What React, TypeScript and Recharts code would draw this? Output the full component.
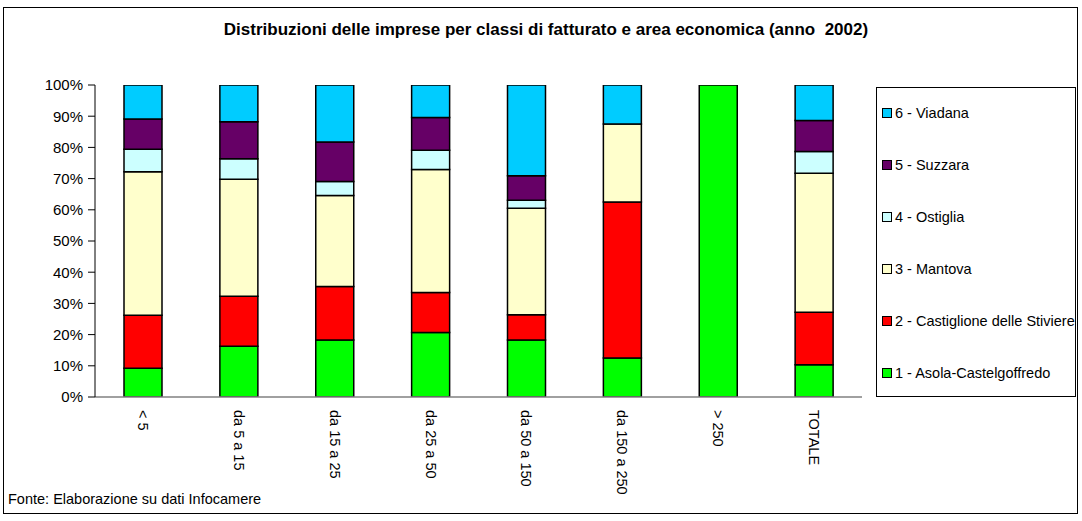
import { BarChart, Bar, XAxis, YAxis, Legend } from 'recharts';

const categories = ['< 5', 'da 5 a 15', 'da 15 a 25', 'da 25 a 50', 'da 50 a 150', 'da 150 a 250', '> 250', 'TOTALE'];

// percentuali per area economica
const asola = [9.2, 16.3, 18.3, 20.7, 18.3, 12.5, 100, 10.3];
const castiglione = [17.0, 16.0, 17.1, 12.8, 8.1, 50.0, 0, 16.9];
const mantova = [46.0, 37.5, 29.2, 39.4, 34.1, 25.0, 0, 44.5];
const ostiglia = [7.2, 6.6, 4.5, 6.2, 2.6, 0, 0, 7.0];
const suzzara = [9.7, 11.8, 12.6, 10.5, 7.8, 0, 0, 9.9];
const viadana = [10.9, 11.8, 18.3, 10.4, 29.1, 12.5, 0, 11.4];

const yTicks = [0, 10, 20, 30, 40, 50, 60, 70, 80, 90, 100];

const series = [
  { key: 'asola', name: '1 - Asola-Castelgoffredo', color: '#00FF00' },
  { key: 'castiglione', name: '2 - Castiglione delle Stiviere', color: '#FF0000' },
  { key: 'mantova', name: '3 - Mantova', color: '#FFFFCC' },
  { key: 'ostiglia', name: '4 - Ostiglia', color: '#CCFFFF' },
  { key: 'suzzara', name: '5 - Suzzara', color: '#660066' },
  { key: 'viadana', name: '6 - Viadana', color: '#00CCFF' },
];

const data = categories.map((c, i) => ({
  cat: c,
  asola: asola[i],
  castiglione: castiglione[i],
  mantova: mantova[i],
  ostiglia: ostiglia[i],
  suzzara: suzzara[i],
  viadana: viadana[i],
}));

const FONT = 'Arial, "Liberation Sans", sans-serif';

function XTick(props: any) {
  const { x, y, payload } = props;
  return (
    <text
      x={0}
      y={0}
      transform={`translate(${x - 5},${y + 5}) rotate(90)`}
      textAnchor="start"
      fontSize={14.5}
      fontFamily={FONT}
      fill="#000"
    >
      {payload.value}
    </text>
  );
}

function LegendBox() {
  const items = [...series].reverse();
  return (
    <div
      style={{
        width: 200,
        height: 310,
        border: '1px solid #000',
        boxSizing: 'border-box',
        background: '#fff',
        fontFamily: FONT,
        fontSize: 14.5,
        position: 'relative',
      }}
    >
      {items.map((s, i) => (
        <div
          key={s.key}
          style={{ position: 'absolute', left: 5, top: 17 + i * 52, display: 'flex', alignItems: 'center', whiteSpace: 'nowrap' }}
        >
          <span style={{ width: 8, height: 8, background: s.color, border: '1px solid #000', marginRight: 3, display: 'inline-block' }} />
          <span>{s.name}</span>
        </div>
      ))}
    </div>
  );
}

export default function App() {
  return (
    <div style={{ position: 'absolute', left: 0, top: 0, width: 1082, height: 521, background: '#fff' }}>
      <div
        style={{
          position: 'absolute',
          left: 3,
          top: 7,
          width: 1075,
          height: 507,
          border: '1px solid #000',
          boxSizing: 'border-box',
        }}
      />
      <div
        style={{
          position: 'absolute',
          left: 0,
          top: 20,
          width: 1092,
          textAlign: 'center',
          fontFamily: FONT,
          fontWeight: 'bold',
          fontSize: 17,
          whiteSpace: 'nowrap',
        }}
      >
        Distribuzioni delle imprese per classi di fatturato e area economica (anno&nbsp; 2002)
      </div>
      <div style={{ position: 'absolute', left: 8, top: 491, fontFamily: FONT, fontSize: 14.5, whiteSpace: 'nowrap' }}>
        Fonte: Elaborazione su dati Infocamere
      </div>
      <BarChart
        width={1082}
        height={521}
        data={data}
        margin={{ top: 85, right: 220, bottom: 24, left: 35 }}
        barSize={38}
        style={{ position: 'absolute', left: 0, top: 0 }}
      >
        <XAxis
          dataKey="cat"
          height={100}
          interval={0}
          tick={<XTick />}
          tickLine={false}
          axisLine={{ stroke: '#808080', strokeWidth: 1.5 }}
        />
        <XAxis xAxisId="top" orientation="top" dataKey="cat" height={0} tick={false} tickLine={false} axisLine={{ stroke: '#000' }} />
        <YAxis
          width={60}
          domain={[0, 100]}
          ticks={yTicks}
          interval={0}
          tickFormatter={(v: number) => `${v}%`}
          tick={{ fontSize: 15, fontFamily: FONT, fill: '#000' }}
          tickLine={{ stroke: '#000' }}
          tickSize={7}
          tickMargin={5}
          axisLine={{ stroke: '#000' }}
          allowDataOverflow
        />
        <YAxis yAxisId="right" orientation="right" width={0} domain={[0, 100]} tick={false} tickLine={false} axisLine={{ stroke: '#000' }} />
        <Legend
          layout="vertical"
          align="center"
          verticalAlign="middle"
          wrapperStyle={{ left: 876, top: 87, width: 200, height: 310 }}
          content={<LegendBox />}
        />
        {series.map((s) => (
          <Bar
            key={s.key}
            dataKey={s.key}
            name={s.name}
            stackId="a"
            fill={s.color}
            stroke="#000"
            strokeWidth={1.5}
            isAnimationActive={false}
          />
        ))}
      </BarChart>
    </div>
  );
}
